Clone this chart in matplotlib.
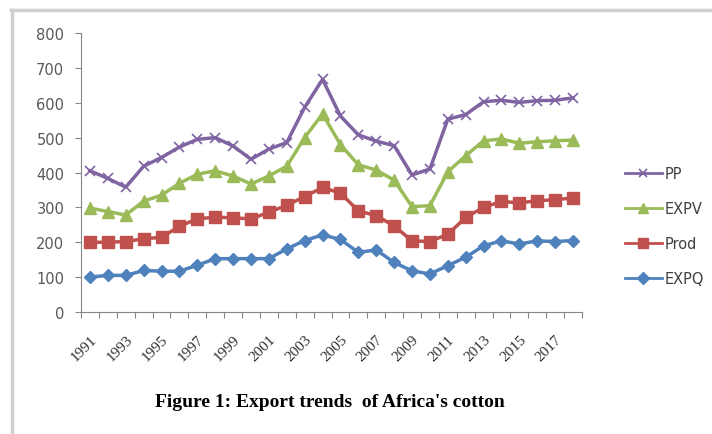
import matplotlib
matplotlib.use("Agg")
import matplotlib.pyplot as plt
from matplotlib.lines import Line2D

years = list(range(1991, 2019))
pp = [405, 383, 358, 418, 443, 473, 495, 500, 476, 438, 467, 486,
      587, 667, 562, 508, 490, 477, 393, 410, 553, 566, 603, 607, 601, 606, 607, 614]
expv = [298, 288, 278, 318, 335, 369, 395, 405, 390, 367, 390, 418,
        500, 568, 480, 422, 407, 378, 302, 305, 402, 448, 491, 496, 484, 488, 491, 493]
prod = [200, 200, 202, 210, 214, 246, 267, 272, 270, 267, 286, 306,
        331, 357, 341, 290, 276, 247, 204, 202, 223, 271, 300, 317, 313, 319, 322, 327]
expq = [100, 105, 105, 119, 117, 117, 134, 153, 153, 153, 153, 181,
        205, 221, 208, 171, 178, 142, 118, 109, 133, 157, 190, 204, 195, 204, 202, 205]

W, H = 712, 435
fig = plt.figure(figsize=(W / 100, H / 100), dpi=100)
ax = fig.add_axes([81 / W, 1 - 313 / H, (582 - 81) / W, (313 - 34) / H])

x = list(range(len(years)))
ax.plot(x, pp, color="#8064A2", lw=2.5, marker="x", ms=7, mew=1.2, label="PP")
ax.plot(x, expv, color="#9BBB59", lw=2.5, marker="^", ms=8, label="EXPV")
ax.plot(x, prod, color="#C0504D", lw=2.5, marker="s", ms=8, label="Prod")
ax.plot(x, expq, color="#4F81BD", lw=2.5, marker="D", ms=6.5, label="EXPQ")

ax.set_xlim(-0.5, len(years) - 0.5)
ax.set_ylim(0, 800)
ax.set_yticks(range(0, 801, 100))
ax.tick_params(axis="y", colors="#868686", labelcolor="#595959", length=4,
               labelsize=10.5, pad=8)
ax.set_xticks([i - 0.5 for i in range(len(years) + 1)])
ax.set_xticklabels([])
ax.tick_params(axis="x", which="major", colors="#868686", length=4)
ax.set_xticks(x[::2], minor=True)
ax.set_xticklabels([str(y) for y in years[::2]], minor=True, rotation=45,
                   ha="right", rotation_mode="anchor",
                   family="Liberation Serif", fontsize=11, color="#303030")
ax.tick_params(axis="x", which="minor", length=0, pad=15)
for s in ["top", "right"]:
    ax.spines[s].set_visible(False)
for s in ["left", "bottom"]:
    ax.spines[s].set_color("#868686")

handles = [Line2D([], [], color=l.get_color(), lw=2, marker=l.get_marker(),
                  ms=l.get_markersize() * 0.9, mew=l.get_markeredgewidth())
           for l in ax.get_lines()]
fig.legend(handles, ["PP", "EXPV", "Prod", "EXPQ"], loc="upper left",
           bbox_to_anchor=(612 / W, 1 - 154 / H), frameon=False,
           fontsize=10.5, labelspacing=1.38, handlelength=2.5, handletextpad=0.2,
           labelcolor="#404040")

fig.text(330 / W, 1 - 403 / H, "Figure 1: Export trends  of Africa's cotton",
         ha="center", va="center", family="Liberation Serif",
         fontweight="bold", fontsize=14)

# light frame round the chart (top and left only visible)
fig.add_artist(Line2D([11 / W, 1], [1 - 11 / H] * 2, color="#D0D0D0", lw=2.5))
fig.add_artist(Line2D([12 / W] * 2, [0, 1 - 11 / H], color="#D0D0D0", lw=2.5))

fig.savefig("out.png", dpi=100)
